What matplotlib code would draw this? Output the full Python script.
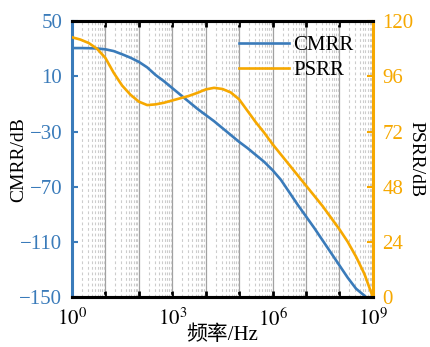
import numpy as np
import matplotlib
matplotlib.use('Agg')
import matplotlib.pyplot as plt
from matplotlib.ticker import FixedLocator, FuncFormatter, NullFormatter, LogLocator

plt.rcParams['font.family'] = ['Liberation Serif', 'Noto Sans CJK SC']
plt.rcParams['mathtext.fontset'] = 'stix'

# log10 of frequency (Hz)
log_f = [0, 0.25, 0.5, 0.75, 1.0, 1.25, 1.5, 1.75, 2.0, 2.25, 2.5, 2.75, 3.0,
         3.25, 3.5, 3.75, 4.0, 4.25, 4.5, 4.75, 5.0, 5.25, 5.5, 5.75, 6.0,
         6.25, 6.5, 6.75, 7.0, 7.25, 7.5, 7.75, 8.0, 8.25, 8.5, 8.75, 9.0]

# CMRR in dB (left axis)
cmrr = [30.5, 30.5, 30.4, 30.2, 29.6, 28.3, 26.0, 23.5, 20.5, 16.5, 11.0, 6.5,
        1.5, -3.5, -8.5, -13.5, -18.0, -22.5, -27.5, -32.5, -37.5, -42.0,
        -47.0, -52.0, -58.0, -65.0, -74.0, -83.0, -91.5, -100.0, -109.0,
        -118.0, -127.0, -136.0, -144.0, -149.0, -155.0]

# PSRR in dB (right axis)
psrr = [113, 112, 110.5, 108, 104, 97.5, 92, 88, 85, 83.5, 83.8, 84.5, 85.5,
        86.5, 87.5, 88.8, 90.3, 91, 90.5, 89, 86, 81, 76, 71.5, 66.5, 62,
        57.5, 53, 48.5, 44, 39.5, 34.5, 29.5, 24, 17.5, 10, 0]

freq = [10 ** v for v in log_f]

blue = '#3A7BBA'
orange = '#F6A800'

fig = plt.figure(figsize=(4.31, 3.47), dpi=100)
ax = fig.add_axes([0.167, 0.144, 0.698, 0.795])
ax2 = ax.twinx()

l1, = ax.plot(freq, cmrr, color=blue, lw=1.9, label='CMRR')
l2, = ax2.plot(freq, psrr, color=orange, lw=1.9, label='PSRR')

ax.set_xscale('log')
ax.set_xlim(1, 1e9)
ax.set_ylim(-150, 50)
ax2.set_ylim(0, 120)
ax.set_yticks([-150, -110, -70, -30, 10, 50])
ax2.set_yticks([0, 24, 48, 72, 96, 120])

# x ticks: every decade, labels every 3 decades
ax.xaxis.set_major_locator(FixedLocator([10 ** k for k in range(10)]))
ax.xaxis.set_major_formatter(FuncFormatter(
    lambda v, p: r'$10^{%d}$' % round(np.log10(v)) if round(np.log10(v)) % 3 == 0 else ''))
ax.xaxis.set_minor_locator(LogLocator(base=10, subs=range(2, 10), numticks=100))
ax.xaxis.set_minor_formatter(NullFormatter())

ax.grid(True, which='major', axis='x', color='#a0a0a0', lw=0.9, ls='-')
ax.grid(True, which='minor', axis='x', color='#cccccc', lw=0.8, ls=(0, (2.5, 2.5)))

ax.tick_params(axis='x', which='major', direction='in', length=4, width=2,
               top=True, labelsize=15, pad=8, color='black')
ax.tick_params(axis='x', which='minor', length=0)
ax.tick_params(axis='y', direction='in', length=4, width=1.5, colors=blue,
               labelsize=15, pad=7)
ax2.tick_params(axis='y', direction='in', length=4, width=1.5, colors=orange,
                labelsize=15, pad=7)

for a in (ax, ax2):
    a.spines['top'].set_linewidth(2.2)
    a.spines['bottom'].set_linewidth(2.2)
ax.spines['left'].set_color(blue)
ax.spines['left'].set_linewidth(2.2)
ax.spines['right'].set_visible(False)
ax2.spines['left'].set_visible(False)
ax2.spines['right'].set_color(orange)
ax2.spines['right'].set_linewidth(2.2)

ax.set_xlabel('频率/Hz', fontsize=15, labelpad=-4)
ax.set_ylabel('CMRR/dB', fontsize=14)
ax.yaxis.set_label_coords(-0.148, 0.5)
ax2.set_ylabel('PSRR/dB', fontsize=14, rotation=270, labelpad=8)

ax.legend(handles=[l1, l2], loc='upper right', bbox_to_anchor=(0.985, 1.0),
          frameon=False, fontsize=15, handlelength=2.4, handletextpad=0.2,
          labelspacing=0.25, borderaxespad=0.3)

fig.savefig('out.png', dpi=100)
